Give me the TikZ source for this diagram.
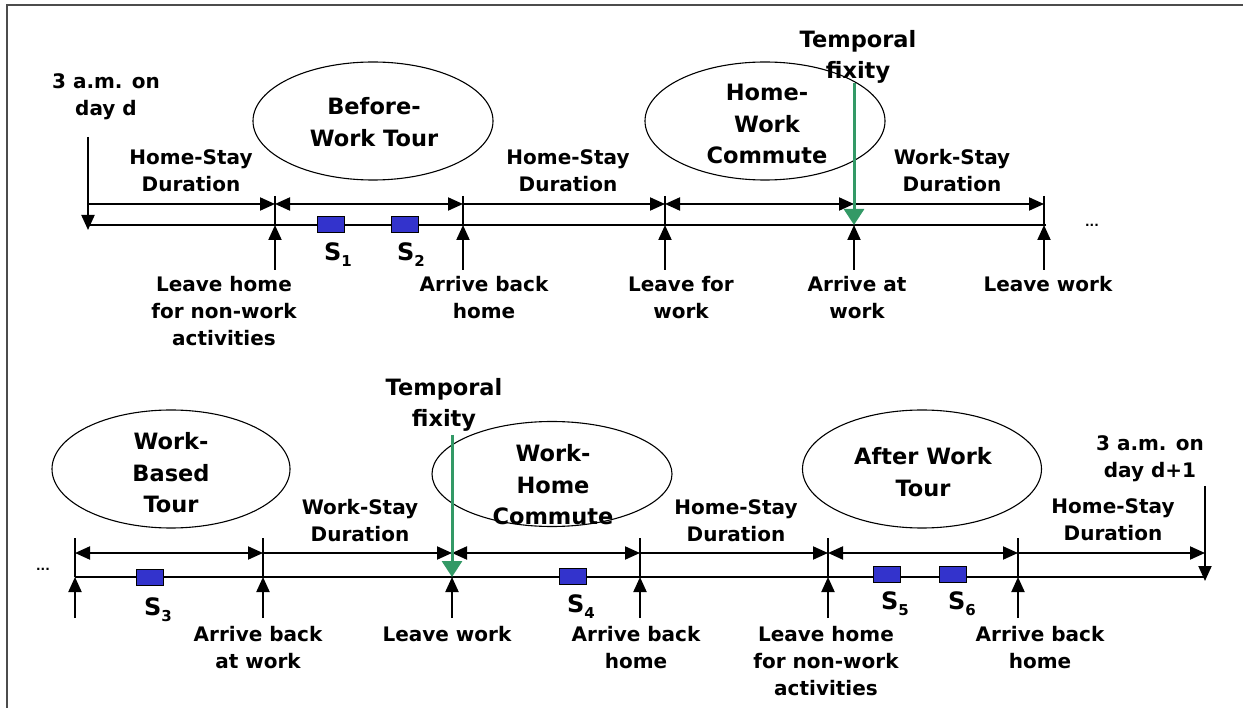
\documentclass[tikz,border=0pt]{standalone}
\usepackage{fontspec}
\setmainfont{DejaVu Sans}
\usepackage{tikz}
\usetikzlibrary{positioning,arrows.meta,shapes.geometric}

\definecolor{fixgreen}{RGB}{51,153,102}
\definecolor{stopblue}{RGB}{51,51,204}

\newcommand{\stopname}[1]{S\raisebox{-6pt}{\fontsize{15}{15}\selectfont #1}}

\tikzset{
  lbl/.style={font=\bfseries\fontsize{20}{27}\selectfont, align=center, inner sep=0pt},
  big/.style={font=\bfseries\fontsize{22.5}{31.5}\selectfont, align=center, inner sep=0pt},
  stoplbl/.style={font=\bfseries\fontsize{24}{24}\selectfont, inner sep=0pt},
  tour/.style={draw, ellipse, line width=1.1pt, minimum width=240pt, minimum height=118pt, inner sep=0pt},
  stopbox/.style={draw, fill=stopblue, line width=0.9pt, minimum width=27pt, minimum height=16pt, inner sep=0pt},
  timeline/.style={line width=2pt},
  dur/.style={line width=2pt, -{Triangle[length=15pt,width=13pt]}},
  durboth/.style={line width=2pt, {Triangle[length=15pt,width=13pt]}-{Triangle[length=15pt,width=13pt]}},
  pointer/.style={line width=2pt, -{Triangle[length=15pt,width=13pt]}},
  fixed/.style={draw=fixgreen, line width=3pt, -{Triangle[length=16pt,width=20pt]}},
  dots/.style={font=\bfseries\fontsize{12}{12}\selectfont, inner sep=0pt, anchor=base},
}

\begin{document}
\begin{tikzpicture}[x=1pt,y=-1pt]
      \useasboundingbox (0,0) rectangle (1243,708);
      \draw[line width=1.5pt, black!70] (7,708) -- (7,5) -- (1243,5);

      % Define coordinates, day d
      \foreach \n/\x in {0/88,1/275,2/463,3/665,4/854,5/1044} {
        \coordinate (a\n) at (\x,225);
        \coordinate (d\n) at (\x,204);
        \coordinate (k\n) at (\x,196);
        \coordinate (u\n) at (\x,270);
      }
      \coordinate (top0) at (88,137);
      \coordinate (e0) at (88,230);
      \coordinate (aend) at (1046,225);
      \coordinate (f1) at (854,83);

      % Define coordinates, after work
      \foreach \n/\x in {0/75,1/263,2/452,3/640,4/828,5/1018,6/1205} {
        \coordinate (b\n) at (\x,577);
        \coordinate (c\n) at (\x,553);
        \coordinate (m\n) at (\x,538);
        \coordinate (v\n) at (\x,618);
      }
      \coordinate (top6) at (1205,486);
      \coordinate (e6) at (1205,581);
      \coordinate (f2) at (452,435);

      % Tours
      \node[tour] (bwt) at (373,121) {};
      \node[big] (bwtx) at (374,122) {Before-\\Work Tour};
      \node[tour] (hwc) at (765,121) {};
      \node[big] (hwcx) at (767,124) {Home-\\Work\\Commute};
      \node[tour, minimum width=238pt] (wbt) at (171,469) {};
      \node[big] (wbtx) at (171,473) {Work-\\Based\\Tour};
      \node[tour, minimum height=105pt] (whc) at (552,474) {};
      \node[big] (whcx) at (553,485) {Work-\\Home\\Commute};
      \node[tour, minimum width=239pt] (awt) at (922,469) {};
      \node[big] (awtx) at (923,472) {After Work\\Tour};

      \node[big] (tf1) at (858,57) {Temporal\\fixity};
      \node[big] (tf2) at (444,405) {Temporal\\fixity};

      % Connect nodes, day d
      \draw[timeline] (a0) -- (aend);
      \foreach \n in {1,2,3,5} \draw[timeline] (k\n) -- (a\n);
      \foreach \n in {1,...,5} \draw[pointer] (u\n) -- (a\n);
      \draw[pointer] (top0) -- (e0);
      \draw[dur] (d0) -- (d1);
      \draw[durboth] (d1) -- (d2);
      \draw[dur] (d2) -- (d3);
      \draw[durboth] (d3) -- (d4);
      \draw[dur] (d4) -- (d5);
      \draw[fixed] (f1) -- (a4);

      % Connect nodes, after work
      \draw[timeline] (b0) -- (b6);
      \foreach \n in {0,1,3,4,5} \draw[timeline] (m\n) -- (b\n);
      \foreach \n in {0,...,5} \draw[pointer] (v\n) -- (b\n);
      \draw[pointer] (top6) -- (e6);
      \draw[durboth] (c0) -- (c1);
      \draw[dur] (c1) -- (c2);
      \draw[durboth] (c2) -- (c3);
      \draw[dur] (c3) -- (c4);
      \draw[durboth] (c4) -- (c5);
      \draw[dur] (c5) -- (c6);
      \draw[fixed] (f2) -- (b2);

      % Stops
      \node[stopbox] (s1) at (331,224) {};
      \node[stopbox] (s2) at (405,224) {};
      \node[stopbox] (s3) at (150,577) {};
      \node[stopbox] (s4) at (573,576) {};
      \node[stopbox] (s5) at (887,574) {};
      \node[stopbox] (s6) at (953,574) {};
      \node[stoplbl, below=10pt of s1, xshift=7pt] (s1l) {\stopname{1}};
      \node[stoplbl, below=10pt of s2, xshift=6pt] (s2l) {\stopname{2}};
      \node[stoplbl, below=12pt of s3, xshift=8pt] (s3l) {\stopname{3}};
      \node[stoplbl, below=10pt of s4, xshift=8pt] (s4l) {\stopname{4}};
      \node[stoplbl, below=9pt of s5, xshift=8pt] (s5l) {\stopname{5}};
      \node[stoplbl, below=9pt of s6, xshift=9pt] (s6l) {\stopname{6}};

      % Durations
      \node[lbl] (hs1) at (191,171) {Home-Stay\\Duration};
      \node[lbl] (hs2) at (568,171) {Home-Stay\\Duration};
      \node[lbl] (ws1) at (952,171) {Work-Stay\\Duration};
      \node[lbl] (ws2) at (360,521) {Work-Stay\\Duration};
      \node[lbl] (hs3) at (736,521) {Home-Stay\\Duration};
      \node[lbl] (hs4) at (1113,520) {Home-Stay\\Duration};
      \node[lbl, above=17pt of top0, xshift=18pt] (day1) {3 a.m. on\\day d};
      \node[lbl, above=4pt of top6, xshift=-55pt] (day2) {3 a.m. on\\day d+1};
      \node[dots] (more1) at (1092,227) {...};
      \node[dots] (more2) at (43,570) {...};

      % Events
      \node[lbl, below=6pt of u1, xshift=-51pt] (l1) {Leave home\\for non-work\\activities};
      \node[lbl, below=6pt of u2, xshift=21pt] (l2) {Arrive back\\home};
      \node[lbl, below=6pt of u3, xshift=16pt] (l3) {Leave for\\work};
      \node[lbl, below=6pt of u4, xshift=3pt] (l4) {Arrive at\\work};
      \node[lbl, below=6pt of u5, xshift=4pt] (l5) {Leave work};
      \node[lbl, below=8pt of v1, xshift=-5pt] (n1) {Arrive back\\at work};
      \node[lbl, below=8pt of v2, xshift=-5pt] (n2) {Leave work};
      \node[lbl, below=8pt of v3, xshift=-4pt] (n3) {Arrive back\\home};
      \node[lbl, below=8pt of v4, xshift=-2pt] (n4) {Leave home\\for non-work\\activities};
      \node[lbl, below=8pt of v5, xshift=22pt] (n5) {Arrive back\\home};
\end{tikzpicture}
\end{document}
